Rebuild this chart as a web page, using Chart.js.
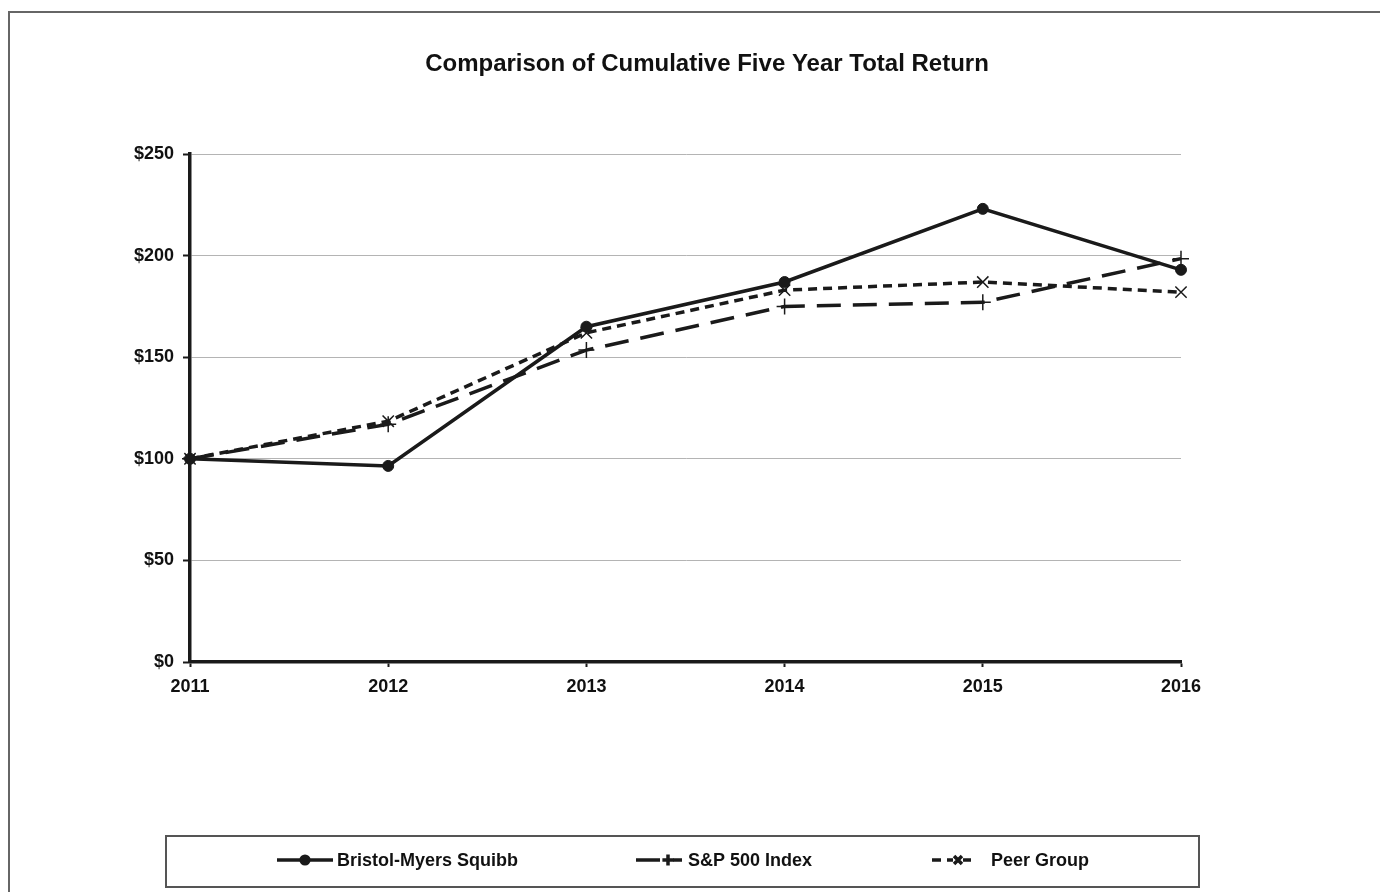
<!DOCTYPE html>
<html>
<head>
<meta charset="utf-8">
<script src="https://cdn.jsdelivr.net/npm/chart.js@4.4.1/dist/chart.umd.min.js"></script>
<style>
    html, body { margin: 0; padding: 0; background: #fff; }
    #wrap { position: relative; width: 1380px; height: 892px; }
    #frame { position: absolute; left: 8px; top: 11px; width: 1372px; height: 881px;
             border-top: 2px solid #666; border-left: 2px solid #666; box-sizing: border-box; }
    canvas { position: absolute; left: 0; top: 0; }
</style>
</head>
<body>
<div id="wrap">
    <div id="frame"></div>
    <canvas id="returnChart" width="1380" height="892"></canvas>
</div>
<script>
const years = ['2011', '2012', '2013', '2014', '2015', '2016'];
const bmsValues = [100, 96.5, 165, 187, 223, 193];
const spValues = [100, 117, 153.5, 175, 177, 198.5];
const peerValues = [100, 118.5, 162, 183, 187, 182];
const yTicks = [0, 50, 100, 150, 200, 250];

const chartTitle = 'Comparison of Cumulative Five Year Total Return';
const ink = '#1a1a1a';
const font = '"Liberation Sans", Arial, sans-serif';

document.addEventListener('DOMContentLoaded', function() {
    const canvas = document.getElementById('returnChart');

    // title + boxed legend drawn by hand, Excel style
    const decorPlugin = {
        id: 'decor',
        afterDraw: function(chart) {
            const ctx = chart.ctx;
            ctx.save();
            ctx.fillStyle = '#111';
            ctx.font = 'bold 24px ' + font;
            ctx.textAlign = 'center';
            ctx.textBaseline = 'middle';
            ctx.fillText(chartTitle, 707, 64);

            ctx.strokeStyle = '#555';
            ctx.lineWidth = 2;
            ctx.strokeRect(166, 836, 1033, 51);

            const items = [
                { x1: 277, x2: 333, mx: 305, tx: 337 },
                { x1: 636, x2: 682, mx: 668, tx: 688 },
                { x1: 932, x2: 976, mx: 958, tx: 991 }
            ];
            const y = 860;
            chart.data.datasets.forEach(function(ds, i) {
                const it = items[i];
                ctx.strokeStyle = ink;
                ctx.lineWidth = 3.5;
                ctx.setLineDash(ds.borderDash || []);
                ctx.beginPath();
                ctx.moveTo(it.x1, y);
                ctx.lineTo(it.x2, y);
                ctx.stroke();
                ctx.setLineDash([]);
                ctx.fillStyle = '#fff';
                ctx.fillRect(it.mx - 5, y - 6, 10, 12);
                ctx.fillStyle = ink;
                Chart.helpers.drawPoint(ctx, {
                    pointStyle: ds.pointStyle,
                    radius: ds.pointRadius * 0.7,
                    borderWidth: ds.pointBorderWidth
                }, it.mx, y);
                ctx.fillStyle = '#111';
                ctx.font = 'bold 18px ' + font;
                ctx.textAlign = 'left';
                ctx.fillText(ds.label, it.tx, y + 1);
            });
            ctx.restore();
        }
    };

    new Chart(canvas, {
        type: 'line',
        data: {
            labels: years,
            datasets: [{
                label: 'Bristol-Myers Squibb',
                data: bmsValues,
                borderColor: ink,
                backgroundColor: ink,
                borderWidth: 3.5,
                pointStyle: 'circle',
                pointRadius: 5.5,
                pointBorderWidth: 1,
                pointBackgroundColor: ink,
                pointBorderColor: ink,
                tension: 0
            }, {
                label: 'S&P 500 Index',
                data: spValues,
                borderColor: ink,
                backgroundColor: ink,
                borderWidth: 3.5,
                borderDash: [24, 12],
                pointStyle: 'cross',
                pointRadius: 8,
                pointBorderWidth: 1.5,
                pointBorderColor: ink,
                tension: 0
            }, {
                label: 'Peer Group',
                data: peerValues,
                borderColor: ink,
                backgroundColor: ink,
                borderWidth: 3.5,
                borderDash: [9, 6],
                pointStyle: 'crossRot',
                pointRadius: 8,
                pointBorderWidth: 1.5,
                pointBorderColor: ink,
                tension: 0
            }]
        },
        options: {
            responsive: false,
            animation: false,
            devicePixelRatio: 1,
            layout: { padding: { left: 0, right: 199, top: 154, bottom: 190 } },
            plugins: {
                legend: { display: false },
                title: { display: false },
                tooltip: { enabled: false }
            },
            scales: {
                x: {
                    offset: false,
                    afterFit: function(s) { s.height = 40; },
                    grid: { display: true, drawOnChartArea: false, tickLength: 5, tickColor: ink, tickWidth: 2 },
                    border: { display: true, color: ink, width: 3.5 },
                    ticks: {
                        color: '#111', padding: 9, maxRotation: 0, autoSkip: false,
                        font: { family: font, size: 18, weight: 'bold' }
                    }
                },
                y: {
                    min: 0,
                    max: 250,
                    afterFit: function(s) { s.width = 190; },
                    afterBuildTicks: function(s) {
                        s.ticks = yTicks.map(function(v) { return { value: v }; });
                    },
                    grid: { color: '#b4b4b4', lineWidth: 1, tickLength: 7, tickColor: ink, tickWidth: 2 },
                    border: { display: true, color: ink, width: 3.5 },
                    ticks: {
                        color: '#111', padding: 9,
                        font: { family: font, size: 18, weight: 'bold' },
                        callback: function(v) { return '$' + v; }
                    }
                }
            }
        },
        plugins: [decorPlugin]
    });
});
</script>
</body>
</html>
